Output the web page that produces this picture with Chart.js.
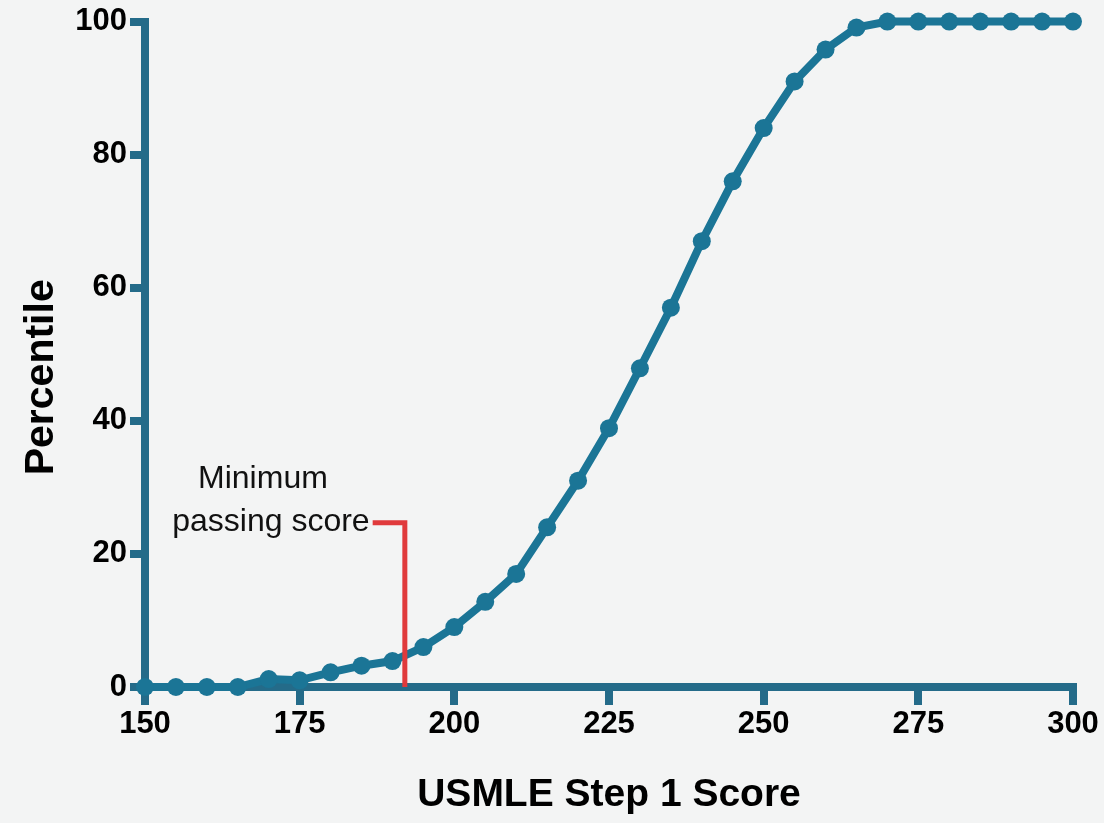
<!DOCTYPE html>
<html>
<head>
<meta charset="utf-8">
<script src="https://cdn.jsdelivr.net/npm/chart.js@4"></script>
<style>
  html, body { margin: 0; padding: 0; background: #f3f4f4; }
  #wrap { width: 1104px; height: 823px; }
</style>
</head>
<body>
<div id="wrap"><canvas id="chart" width="1104" height="823"></canvas></div>
<script>
// USMLE Step 1 score vs percentile
const scores = [150, 155, 160, 165, 170, 175, 180, 185, 190, 195, 200, 205, 210, 215, 220,
                225, 230, 235, 240, 245, 250, 255, 260, 265, 270, 275, 280, 285, 290, 295, 300];
const percentiles = [0, 0, 0, 0, 1.2, 1, 2.2, 3.2, 3.9, 6, 9, 12.8, 17, 24, 31,
                     38.9, 47.9, 57, 67, 76, 84, 91, 95.8, 99.1, 100, 100, 100, 100, 100, 100, 100];

const xTicks = [150, 175, 200, 225, 250, 275, 300];
const yTicks = [0, 20, 40, 60, 80, 100];

// minimum passing score marker
const passScore = 192;
const passLevel = 24.7;
const passLabelX = 186.8;
const passLabel = ['Minimum', 'passing score'];

const xTitle = 'USMLE Step 1 Score';
const yTitle = 'Percentile';

const FONT = '"Liberation Sans", Arial, Helvetica, sans-serif';
const axisColor = '#246b89';
const lineColor = '#1b7596';
const redColor = '#e03a3c';

const labelsPlugin = {
  id: 'labels',
  afterDatasetsDraw(chart) {
    const { ctx, scales: { x, y } } = chart;
    const lx = x.getPixelForValue(passLabelX);
    const ly = y.getPixelForValue(passLevel);
    ctx.save();
    ctx.fillStyle = '#111';
    ctx.font = '32px ' + FONT;
    ctx.textBaseline = 'alphabetic';
    ctx.textAlign = 'right';
    const w = ctx.measureText(passLabel[1]).width;
    ctx.fillText(passLabel[1], lx - 3, ly + 8);
    ctx.textAlign = 'center';
    ctx.fillText(passLabel[0], lx - 3 - w / 2 - 8, ly + 8 - 43);
    ctx.restore();
  },
  afterDraw(chart) {
    const { ctx, chartArea } = chart;
    ctx.save();
    ctx.translate(chartArea.left - 103, (chartArea.top + chartArea.bottom) / 2 + 23);
    ctx.rotate(-Math.PI / 2);
    ctx.font = 'bold 41px ' + FONT;
    ctx.fillStyle = '#000';
    ctx.textAlign = 'center';
    ctx.textBaseline = 'middle';
    ctx.fillText(yTitle, 0, 0);
    ctx.restore();
  }
};

new Chart(document.getElementById('chart'), {
  type: 'line',
  data: {
    datasets: [
      {
        data: [
          { x: passLabelX, y: passLevel },
          { x: passScore, y: passLevel },
          { x: passScore, y: 0 }
        ],
        borderColor: redColor,
        borderWidth: 5,
        borderJoinStyle: 'miter',
        pointRadius: 0,
        fill: false,
        tension: 0,
        clip: false,
        order: 0
      },
      {
        data: scores.map((s, i) => ({ x: s, y: percentiles[i] })),
        borderColor: lineColor,
        backgroundColor: lineColor,
        borderWidth: 8,
        pointRadius: 9,
        pointBorderWidth: 0,
        pointBackgroundColor: lineColor,
        fill: false,
        tension: 0,
        clip: false,
        order: 1
      }
    ]
  },
  options: {
    responsive: false,
    animation: false,
    layout: { padding: { top: 20, right: 31, left: 0, bottom: 0 } },
    plugins: {
      legend: { display: false },
      tooltip: { enabled: false }
    },
    scales: {
      x: {
        type: 'linear',
        min: 150,
        max: 300,
        afterBuildTicks: s => { s.ticks = xTicks.map(v => ({ value: v })); },
        afterFit: s => { s.height = 136; },
        grid: { drawOnChartArea: false, drawTicks: true, tickLength: 18, lineWidth: 8, color: axisColor },
        border: { display: true, width: 8, color: axisColor },
        ticks: {
          font: { family: FONT, size: 31, weight: 'bold' },
          color: '#000',
          padding: 1,
          maxRotation: 0,
          autoSkip: false
        },
        title: {
          display: true,
          text: xTitle,
          color: '#000',
          font: { family: FONT, size: 39, weight: 'bold' },
          padding: { top: 0, bottom: 4 }
        }
      },
      y: {
        type: 'linear',
        min: 0,
        max: 100,
        afterBuildTicks: s => { s.ticks = yTicks.map(v => ({ value: v })); },
        afterFit: s => { s.width = 145; },
        grid: { drawOnChartArea: false, drawTicks: true, tickLength: 15, lineWidth: 8, color: axisColor },
        border: { display: true, width: 8, color: axisColor },
        ticks: {
          font: { family: FONT, size: 31, weight: 'bold' },
          color: '#000',
          padding: 3
        }
      }
    }
  },
  plugins: [labelsPlugin]
});
</script>
</body>
</html>
